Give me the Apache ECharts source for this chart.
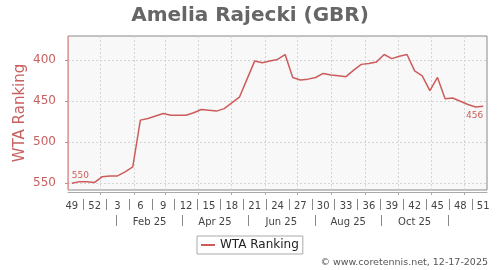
<!DOCTYPE html>
<html><head><meta charset="utf-8">
<script src="https://cdn.jsdelivr.net/npm/echarts@6/dist/echarts.min.js"></script>
<style>html,body{margin:0;padding:0;background:#fff}#c{width:500px;height:270px}</style>
</head><body><div id="c"></div>
<script>
// ---- data ----
const chartTitle = 'Amelia Rajecki (GBR)';
const footerText = '\u00a9 www.coretennis.net, 12-17-2025';
const seriesName = 'WTA Ranking';
// weekly rankings, first week = ISO week 49 of 2024 (Mon 2 Dec 2024), last = week 51 of 2025
const firstWeekMonday = [2024, 11, 2];
const rankings = [550,548,548,549,542,541,541,536,530,473,471,468,465,467,467,467,464,460,461,462,
                  459,452,445,423,401,403,401,399,393,421,424,423,421,416,418,419,420,412,405,404,
                  402,393,398,395,393,413,419,437,421,447,446,450,454,457,456];
const weekTickLabels = ['49','52','3','6','9','12','15','18','21','24','27','30','33','36','39','42','45','48','51'];
const monthTickLabels = ['Feb 25','Apr 25','Jun 25','Aug 25','Oct 25'];
const monthTickMonths = [[2025,1],[2025,3],[2025,5],[2025,7],[2025,9]];
const yTickValues = [400,450,500,550];
const yRange = [370.4, 558.2];

// ---- derived (x measured in days from the first Monday) ----
const DAY = 86400000;
const t0 = new Date(firstWeekMonday[0], firstWeekMonday[1], firstWeekMonday[2]).getTime();
const dayOf = (y, m, d) => (new Date(y, m, d).getTime() - t0) / DAY;
const xMin = 0, xMax = rankings.length * 7;
const weekMid = i => 7 * i + 3.5;
const seriesData = rankings.map((v, i) => {
  const item = { value: [weekMid(i), v] };
  if (i === 0 || i === rankings.length - 1) {
    item.symbol = 'circle'; item.symbolSize = 1;
    item.itemStyle = { color: 'rgba(0,0,0,0)' };
    item.label = i === 0
      ? { show: true, position: 'top', align: 'left', distance: 3 }
      : { show: true, position: 'bottom', align: 'right', distance: 4 };
  }
  return item;
});
// month starts inside the range -> grid lines
const monthStarts = [];
for (let k = 0; k < 14; k++) {
  const d = dayOf(firstWeekMonday[0], firstWeekMonday[1] + k, 1);
  if (d > xMin && d < xMax) monthStarts.push(d);
}
const weekCenters = weekTickLabels.map((s, j) => weekMid(3 * j));
const weekSeps = weekCenters.slice(0, -1).map((c, j) => (c + weekCenters[j + 1]) / 2);
const monthMid = (y, m) => (dayOf(y, m, 1) + dayOf(y, m + 1, 1)) / 2;
const monthCenters = monthTickMonths.map(([y, m]) => monthMid(y, m));
const monthSeps = monthTickMonths.map(([y, m]) => (monthMid(y, m - 2) + monthMid(y, m)) / 2);
{
  const [ly, lm] = monthTickMonths[monthTickMonths.length - 1];
  monthSeps.push((monthMid(ly, lm) + monthMid(ly, lm + 2)) / 2);
}
const nearestLabel = (centers, labels) => v => {
  let best = 0, bd = Infinity;
  centers.forEach((c, k) => { const d = Math.abs(c - v); if (d < bd) { bd = d; best = k; } });
  return bd < 3 ? labels[best] : '';
};

const FONT = 'DejaVu Sans';
const RED = '#cd5c5c';
const chart = echarts.init(document.getElementById('c'), null, { renderer: 'canvas' });
chart.setOption({
  animation: false,
  title: [
    { text: chartTitle, left: 'center', top: 6, padding: 0,
      textStyle: { fontFamily: FONT, fontSize: 20, fontWeight: 'bold', color: '#666' } },
    { text: footerText, right: 12, top: 258, padding: 0,
      textStyle: { fontFamily: FONT, fontSize: 9.5, fontWeight: 'normal', color: '#555' } }
  ],
  legend: {
    data: [{ name: seriesName, itemStyle: { color: RED } }],
    left: 197, top: 236, padding: [3, 4, 3, 4], icon: 'rect', itemWidth: 14, itemHeight: 2,
    borderColor: '#aaa', borderWidth: 1,
    textStyle: { fontFamily: FONT, fontSize: 12, color: '#222' }
  },
  grid: { left: 68, right: 13, top: 36, bottom: 80, show: true,
          backgroundColor: '#f8f8f8', borderColor: '#888', borderWidth: 1 },
  xAxis: [
    { type: 'value', min: xMin, max: xMax, position: 'bottom', offset: 2,
      axisLine: { show: true, lineStyle: { color: '#aaa' } },
      axisTick: { show: true, customValues: monthStarts, length: 3, lineStyle: { color: '#aaa' } },
      axisLabel: { show: false, customValues: monthStarts },
      splitLine: { show: true, lineStyle: { color: '#d4d4d4', type: [2, 2] } } },
    { type: 'value', min: xMin, max: xMax, position: 'bottom', offset: 9,
      axisLine: { show: false },
      axisTick: { show: true, customValues: weekSeps, length: 11, lineStyle: { color: '#888' } },
      axisLabel: { show: true, customValues: weekCenters, margin: 2.5, hideOverlap: false,
                   formatter: nearestLabel(weekCenters, weekTickLabels),
                   fontFamily: FONT, fontSize: 10, color: '#444' },
      splitLine: { show: false } },
    { type: 'value', min: xMin, max: xMax, position: 'bottom', offset: 25,
      axisLine: { show: false },
      axisTick: { show: true, customValues: monthSeps, length: 11, lineStyle: { color: '#888' } },
      axisLabel: { show: true, customValues: monthCenters, margin: 2.5, hideOverlap: false,
                   formatter: nearestLabel(monthCenters, monthTickLabels),
                   fontFamily: FONT, fontSize: 10, color: '#444' },
      splitLine: { show: false } }
  ],
  yAxis: {
    type: 'value', inverse: true, min: yRange[0], max: yRange[1], splitNumber: 4,
    position: 'left', offset: 5,
    name: seriesName, nameLocation: 'middle', nameGap: 35, nameMoveOverlap: false,
    nameTextStyle: { fontFamily: FONT, fontSize: 15, color: '#c86060' },
    axisLine: { show: true, lineStyle: { color: '#dca0a0' } },
    axisTick: { show: true, length: 3, customValues: yTickValues, lineStyle: { color: '#d08888' } },
    axisLabel: { customValues: yTickValues, margin: 7, fontFamily: FONT, fontSize: 12, color: '#c86060' },
    splitLine: { show: true, lineStyle: { color: '#d4d4d4', type: [2, 2] } }
  },
  series: [{
    type: 'line', name: seriesName, xAxisIndex: 0, data: seriesData,
    symbol: 'none', showSymbol: true,
    lineStyle: { color: RED, width: 1.5 }, itemStyle: { color: RED },
    label: { show: false, fontFamily: FONT, fontSize: 9, color: RED },
    emphasis: { disabled: true }
  }]
});
</script></body></html>
